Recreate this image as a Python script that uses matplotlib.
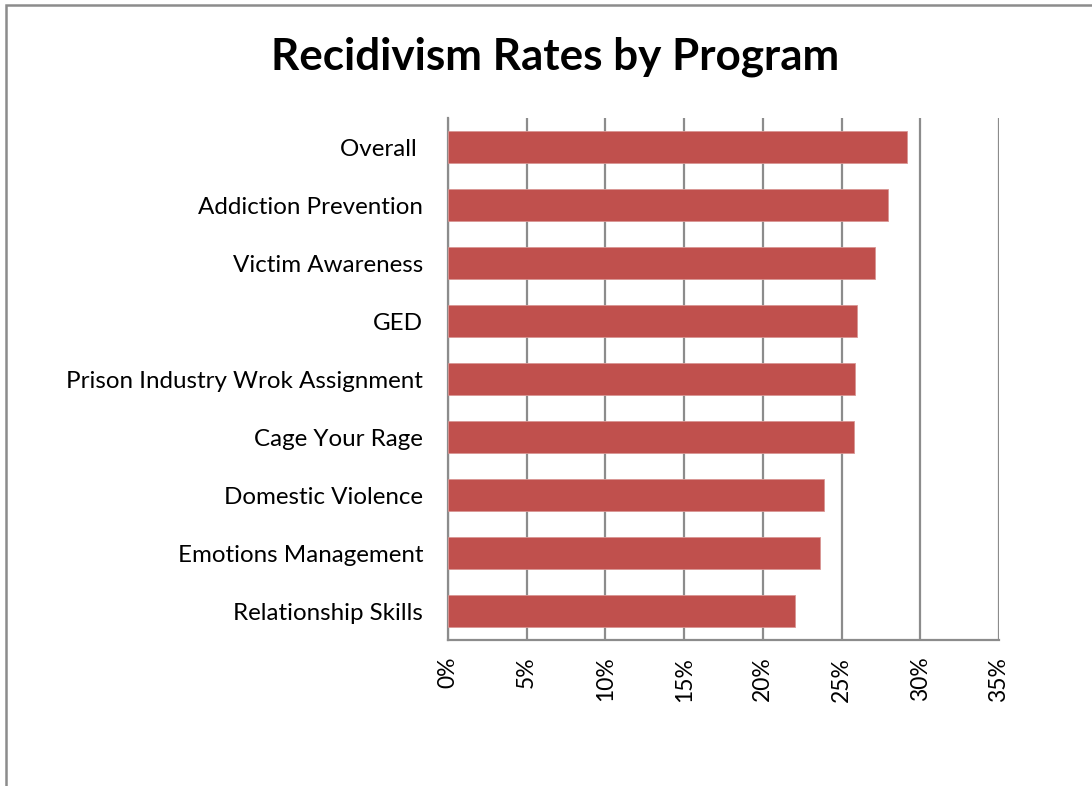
import matplotlib
matplotlib.use("Agg")
import matplotlib.pyplot as plt
from matplotlib.patches import Rectangle
from matplotlib.ticker import FuncFormatter

programs = ["Overall ", "Addiction Prevention", "Victim Awareness", "GED",
            "Prison Industry Wrok Assignment", "Cage Your Rage", "Domestic Violence",
            "Emotions Management", "Relationship Skills"]
rates = [29.15, 27.95, 27.1, 25.97, 25.86, 25.76, 23.9, 23.6, 22.07]
xticks = [0, 5, 10, 15, 20, 25, 30, 35]

plt.rcParams['font.family'] = ['Lato', 'DejaVu Sans']

W, H = 1092, 786
fig = plt.figure(figsize=(W / 100, H / 100), dpi=100)
fig.patch.set_facecolor("white")

# outer chart frame
fig.patches.append(Rectangle((6 / W, -0.05), 1.2, 1 - 4.5 / H + 0.05, transform=fig.transFigure,
                             fill=False, edgecolor="#8c8c8c", linewidth=1.8, zorder=0))

ax = fig.add_axes([448 / W, 1 - 640 / H, (999 - 448) / W, (640 - 118) / H])
ypos = list(range(len(programs)))
ax.barh(ypos, rates, height=0.56, color="#C0504D", edgecolor="#D99694", linewidth=0.6, zorder=3)
ax.set_ylim(len(programs) - 0.5, -0.5)
ax.set_xlim(0, 35)
ax.set_xticks(xticks)
ax.xaxis.set_major_formatter(FuncFormatter(lambda v, p: f"{int(round(v))}%"))
ax.set_yticks(ypos)
ax.set_yticklabels(programs, fontsize=17.4)
ax.tick_params(axis='y', length=0, pad=18)
ax.tick_params(axis='x', length=0, pad=12, labelsize=16.5, labelrotation=90)
ax.grid(axis='x', color="#8c8c8c", linewidth=1.6, zorder=0)
for s in ["top", "right"]:
    ax.spines[s].set_visible(False)
for s in ["left", "bottom"]:
    ax.spines[s].set_color("#8c8c8c")
    ax.spines[s].set_linewidth(1.6)

fig.text(555 / W, 1 - 57 / H, "Recidivism Rates by Program", ha="center", va="center",
         fontsize=31.7, fontweight="bold")

fig.savefig("out.png", dpi=100)
